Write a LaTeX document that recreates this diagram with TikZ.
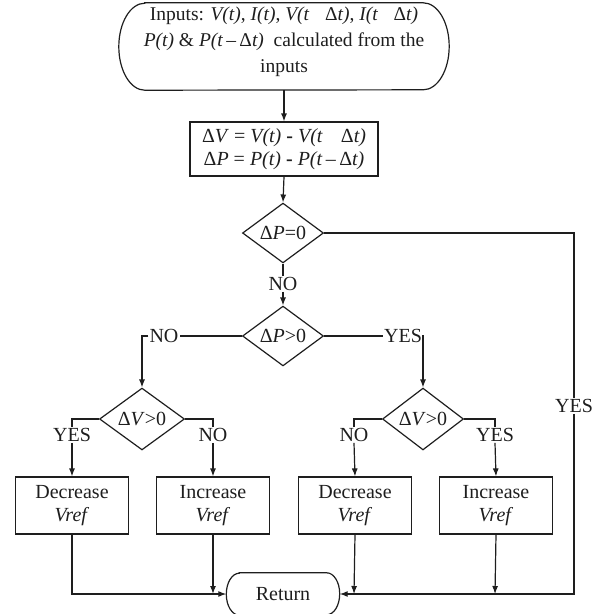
\documentclass[tikz,border=0pt]{standalone}
\usepackage{fontspec}
\setmainfont{Liberation Serif}
\usetikzlibrary{shapes.geometric,arrows.meta}
\definecolor{ink}{RGB}{30,30,30}
\begin{document}
\begin{tikzpicture}[x=1pt,y=-1pt,
  every node/.style={font=\fontsize{20}{23}\selectfont, text=ink},
  ln/.style={line width=1.2pt, draw=ink},
  arr/.style={ln, -{Latex[length=8pt,width=6pt]}},
  box/.style={draw=ink, line width=1.2pt, rectangle, align=center, inner sep=0pt, minimum width=113pt, minimum height=57pt},
  dia/.style={draw=ink, line width=1.2pt, diamond, inner sep=0pt, minimum width=81pt, minimum height=48pt},
  lbl/.style={inner sep=1pt},
  term/.style={rectangle, inner sep=0pt},
  ]
\useasboundingbox (0,0) rectangle (597,614);

% top terminal
\node[term, minimum width=330pt, minimum height=87pt] (top) at (284,46.5) {};
\draw[ln] ([xshift=26pt]top.north west) -- ([xshift=-26pt]top.north east)
  arc[start angle=90,end angle=-90,x radius=26pt,y radius=43.5pt]
  -- ([xshift=26pt]top.south west)
  arc[start angle=270,end angle=90,x radius=26pt,y radius=43.5pt] -- cycle;
\node[align=center, inner sep=0pt, font=\fontsize{19.5}{26}\selectfont] (toptext) at (284,42)
  {Inputs: \textit{V(t)}, \textit{I(t)}, \textit{V(t}\hspace{0.8em}Δ\textit{t)}, \textit{I(t}\hspace{0.8em}Δ\textit{t)}\\
   \textit{P(t)} \& \textit{P(t}\,–\,Δ\textit{t)}\ \ calculated from the\\
   inputs};

% equation box
\node[box, minimum width=188pt, minimum height=54pt] (eq) at (284,149)
  {Δ\textit{V} = \textit{V(t)} \textbf{-} \textit{V(t}\hspace{0.9em}Δ\textit{t)}\\
   Δ\textit{P} = \textit{P(t)} \textbf{-} \textit{P(t}\,–\,Δ\textit{t)}};

% diamonds
\node[dia] (dp0) at (283,233) {Δ\textit{P}=0};
\node[dia] (dp1) at (283,336) {Δ\textit{P}>0};
\node[dia, minimum width=85pt] (dvl) at (142,419) {Δ\textit{V}>0};
\node[dia] (dvr) at (423,419) {Δ\textit{V}>0};

% action boxes
\node[box] (b1) at (72,505.5) {Decrease\\\textit{Vref}};
\node[box] (b2) at (213,505.5) {Increase\\\textit{Vref}};
\node[box] (b3) at (355,505.5) {Decrease\\\textit{Vref}};
\node[box] (b4) at (496,505.5) {Increase\\\textit{Vref}};

% return terminal
\node[term, minimum width=113pt, minimum height=42pt] (ret) at (283,594) {Return};
\draw[ln] ([xshift=13pt]ret.north west) -- ([xshift=-13pt]ret.north east)
  arc[start angle=90,end angle=-90,x radius=13pt,y radius=21pt]
  -- ([xshift=13pt]ret.south west)
  arc[start angle=270,end angle=90,x radius=13pt,y radius=21pt] -- cycle;

% labels
\node[lbl] (no1) at (283,284) {NO};
\node[lbl] (no2) at (164,336) {NO};
\node[lbl] (yes1) at (403,336) {YES};
\node[lbl] (yes2) at (72,435) {YES};
\node[lbl] (no3) at (213,435) {NO};
\node[lbl] (no4) at (354,435) {NO};
\node[lbl] (yes3) at (495,435) {YES};
\node[lbl] (yes4) at (574,406) {YES};

% corner coordinates
\coordinate (cno2) at (142,336);
\coordinate (cyes1) at (423,336);
\coordinate (cl1) at (72,419);
\coordinate (cl2) at (213,419);
\coordinate (cr1) at (354,419);
\coordinate (cr2) at (495,419);
\coordinate (ctr) at (574,233);
\coordinate (cb1) at (72,594);
\coordinate (cb2) at (213,594);
\coordinate (cb3) at (354,594);
\coordinate (cb4) at (495,594);
\coordinate (cbr) at (574,594);

% connectors
\draw[arr] (top.south) -- (eq.north);
\draw[arr] (eq.south) -- (dp0.north);
\draw[ln] (dp0.south) -- (no1.north);
\draw[arr] (no1.south) -- (dp1.north);
\draw[ln] (dp1.west) -- (no2.east);
\draw[arr] (no2.west) -- (cno2) -- (dvl.north);
\draw[ln] (dp1.east) -- (yes1.west);
\draw[arr] (yes1.east) -- (cyes1) -- (dvr.north);
\draw[ln] (dvl.west) -- (cl1) -- (yes2.north);
\draw[arr] (yes2.south) -- (b1.north);
\draw[ln] (dvl.east) -- (cl2) -- (no3.north);
\draw[arr] (no3.south) -- (b2.north);
\draw[ln] (dvr.west) -- (cr1) -- (no4.north);
\draw[arr] (no4.south) -- (b3.north);
\draw[ln] (dvr.east) -- (cr2) -- (yes3.north);
\draw[arr] (yes3.south) -- (b4.north);
\draw[ln] (dp0.east) -- (ctr) -- (yes4.north);
\draw[arr] (yes4.south) -- (cbr) -- (ret.east);
\draw[arr] (b1.south) -- (cb1) -- (ret.west);
\draw[arr] (b2.south) -- (cb2);
\draw[arr] (b3.south) -- (cb3);
\draw[arr] (b4.south) -- (cb4);
\end{tikzpicture}
\end{document}
